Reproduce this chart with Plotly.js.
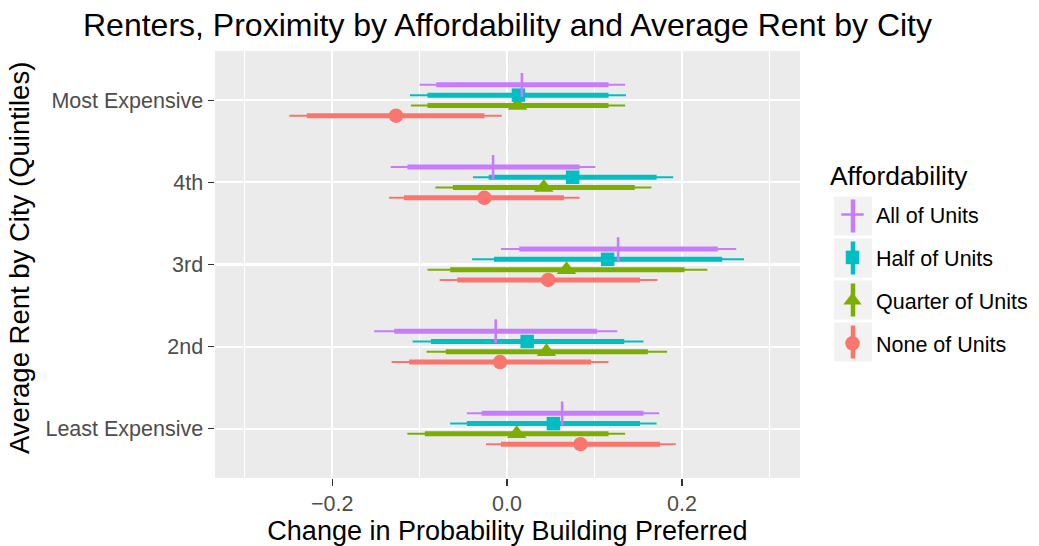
<!DOCTYPE html>
<html><head><meta charset="utf-8">
<script src="https://cdn.plot.ly/plotly-3.0.1.min.js"></script>
<style>html,body{margin:0;padding:0;background:#fff}#chart{width:1039px;height:546px}</style>
</head><body><div id="chart"></div>
<script>
// Categories (bottom to top on the y axis)
const categories = ["Least Expensive", "2nd", "3rd", "4th", "Most Expensive"];
const seriesNames = ["All of Units", "Half of Units", "Quarter of Units", "None of Units"];
const xTickVals = [-0.2, 0, 0.2];

// Point estimates per series, in category order
const allEst      = [0.063, -0.013, 0.127, -0.016, 0.017];
const halfEst     = [0.053, 0.023, 0.115, 0.075, 0.013];
const quarterEst  = [0.011, 0.045, 0.068, 0.042, 0.012];
const noneEst     = [0.084, -0.008, 0.047, -0.026, -0.127];

// Inner (thick) interval
const allInnerLo     = [-0.029, -0.129, 0.014, -0.114, -0.081];
const allInnerHi     = [0.156, 0.103, 0.241, 0.083, 0.116];
const halfInnerLo    = [-0.046, -0.087, -0.015, -0.021, -0.091];
const halfInnerHi    = [0.152, 0.134, 0.246, 0.171, 0.116];
const quarterInnerLo = [-0.094, -0.070, -0.065, -0.062, -0.091];
const quarterInnerHi = [0.116, 0.161, 0.203, 0.146, 0.116];
const noneInnerLo    = [-0.007, -0.112, -0.057, -0.118, -0.229];
const noneInnerHi    = [0.175, 0.096, 0.152, 0.065, -0.026];

// Outer (thin) interval
const allOuterLo     = [-0.046, -0.152, -0.007, -0.133, -0.100];
const allOuterHi     = [0.174, 0.126, 0.262, 0.101, 0.135];
const halfOuterLo    = [-0.065, -0.108, -0.040, -0.039, -0.111];
const halfOuterHi    = [0.171, 0.156, 0.271, 0.190, 0.136];
const quarterOuterLo = [-0.114, -0.092, -0.091, -0.082, -0.110];
const quarterOuterHi = [0.135, 0.183, 0.229, 0.165, 0.135];
const noneOuterLo    = [-0.024, -0.132, -0.077, -0.135, -0.249];
const noneOuterHi    = [0.193, 0.116, 0.172, 0.083, -0.006];

// ---- styling / positioning (not data) ----
const FONT = "Liberation Sans, Arial, Helvetica, sans-serif";
const W = 1039, H = 546;
const M = {l: 215, r: 239, t: 51, b: 68, autoexpand: false};
const series = [
  {name: seriesNames[0], est: allEst, iLo: allInnerLo, iHi: allInnerHi, oLo: allOuterLo, oHi: allOuterHi,
   color: "#C77CFF", off: 0.1875, symbol: "cross-thin", size: 17, lw: 2.6, rank: 1},
  {name: seriesNames[1], est: halfEst, iLo: halfInnerLo, iHi: halfInnerHi, oLo: halfOuterLo, oHi: halfOuterHi,
   color: "#00BFC4", off: 0.0625, symbol: "square", size: 13.5, lw: 0, rank: 2},
  {name: seriesNames[2], est: quarterEst, iLo: quarterInnerLo, iHi: quarterInnerHi, oLo: quarterOuterLo, oHi: quarterOuterHi,
   color: "#7CAE00", off: -0.0625, symbol: "triangle-up", size: 17, lw: 0, rank: 3},
  {name: seriesNames[3], est: noneEst, iLo: noneInnerLo, iHi: noneInnerHi, oLo: noneOuterLo, oHi: noneOuterHi,
   color: "#F8766D", off: -0.1875, symbol: "circle", size: 14.5, lw: 0, rank: 4}
];

function segments(lo, hi, off) {
  const x = [], y = [];
  for (let i = 0; i < categories.length; i++) {
    x.push(lo[i], hi[i], null);
    y.push(i + 1 + off, i + 1 + off, null);
  }
  return {x, y};
}

const traces = [];
const drawOrder = [3, 2, 1, 0];
drawOrder.forEach(k => {
  const s = series[k];
  const seg = segments(s.oLo, s.oHi, s.off);
  traces.push({type: "scatter", mode: "lines", x: seg.x, y: seg.y, showlegend: false,
    hoverinfo: "skip", line: {color: s.color, width: 2}});
});
drawOrder.forEach(k => {
  const s = series[k];
  const seg = segments(s.iLo, s.iHi, s.off);
  traces.push({type: "scatter", mode: "lines", x: seg.x, y: seg.y, showlegend: false,
    hoverinfo: "skip", line: {color: s.color, width: 5}});
});
drawOrder.forEach(k => {
  const s = series[k];
  traces.push({type: "scatter", mode: "markers", name: s.name, legendgroup: "g" + k, legendrank: s.rank,
    x: s.est, y: s.est.map((v, i) => i + 1 + s.off),
    marker: {symbol: s.symbol, size: s.size, color: s.color,
      line: {color: s.color, width: s.lw}}});
});

// legend key decoration (grey key boxes with vertical range line), in pixel layout
const pw = W - M.l - M.r, ph = H - M.t - M.b;
const px = v => (v - M.l) / pw;
const py = v => (H - M.b - v) / ph;
const keyCenters = [216, 258, 300, 342];
const keyX0 = 834, keyX1 = 872, keyHalf = 19.5;
const shapes = [
  {type: "line", xref: "x", yref: "paper", x0: 0, x1: 0, y0: 0, y1: 1, layer: "below",
   line: {color: "#7F7F7F", width: 2, dash: "10px,8px"}}
];
series.forEach((s, k) => {
  const cy = keyCenters[k];
  shapes.push({type: "rect", xref: "paper", yref: "paper", layer: "above",
    x0: px(keyX0), x1: px(keyX1), y0: py(cy + keyHalf), y1: py(cy - keyHalf),
    fillcolor: "#F2F2F2", line: {width: 0}});
  shapes.push({type: "line", xref: "paper", yref: "paper", layer: "above",
    x0: px((keyX0 + keyX1) / 2), x1: px((keyX0 + keyX1) / 2), y0: py(cy + 16.5), y1: py(cy - 16.5),
    line: {color: s.color, width: 4.5}});
});

const layout = {
  width: W, height: H,
  margin: M,
  paper_bgcolor: "#FFFFFF", plot_bgcolor: "#EBEBEB",
  font: {family: FONT, color: "#000000"},
  title: {text: "Renters, Proximity by Affordability and Average Rent by City",
    font: {family: FONT, size: 32, color: "#000000"},
    x: 0.5, xref: "paper", xanchor: "center", y: 1 - 25 / 546, yref: "container", yanchor: "middle"},
  xaxis: {range: [-0.334, 0.335], tickvals: xTickVals, tickformat: ".1f",
    showgrid: true, gridcolor: "#FFFFFF", gridwidth: 2.2, zeroline: false,
    ticks: "outside", ticklen: 6.5, tickwidth: 1.2, tickcolor: "#333333",
    tickfont: {family: FONT, size: 21.5, color: "#4D4D4D"},
    minor: {dtick: 0.1, tick0: 0, showgrid: true, gridcolor: "#FFFFFF", gridwidth: 1.1, ticks: ""},
    showline: false,
    title: {text: "Change in Probability Building Preferred", font: {family: FONT, size: 27, color: "#000000"}, standoff: 4}},
  yaxis: {range: [0.4, 5.6], tickvals: [1, 2, 3, 4, 5], ticktext: categories,
    showgrid: true, gridcolor: "#FFFFFF", gridwidth: 2.2, zeroline: false,
    ticks: "outside", ticklen: 6.5, tickwidth: 1.2, tickcolor: "#333333",
    tickfont: {family: FONT, size: 21.5, color: "#4D4D4D"},
    showline: false},
  shapes: shapes,
  annotations: [
    {text: "Average Rent by City (Quintiles)", xref: "paper", yref: "paper", x: px(19), y: py(258),
     xanchor: "center", yanchor: "middle", textangle: -90, showarrow: false,
     font: {family: FONT, size: 27.5, color: "#000000"}},
    {text: "Affordability", xref: "paper", yref: "paper", x: px(828), y: py(176),
     xanchor: "left", yanchor: "middle", showarrow: false,
     font: {family: FONT, size: 26.4, color: "#000000"}}
  ],
  legend: {x: px(829), xanchor: "left", y: py(194), yanchor: "top", itemwidth: 37,
    bgcolor: "rgba(0,0,0,0)", tracegroupgap: 12,
    font: {family: FONT, size: 21.5, color: "#000000"}},
  showlegend: true
};

Plotly.newPlot("chart", traces, layout, {displayModeBar: false, staticPlot: true});
</script>
</body></html>
